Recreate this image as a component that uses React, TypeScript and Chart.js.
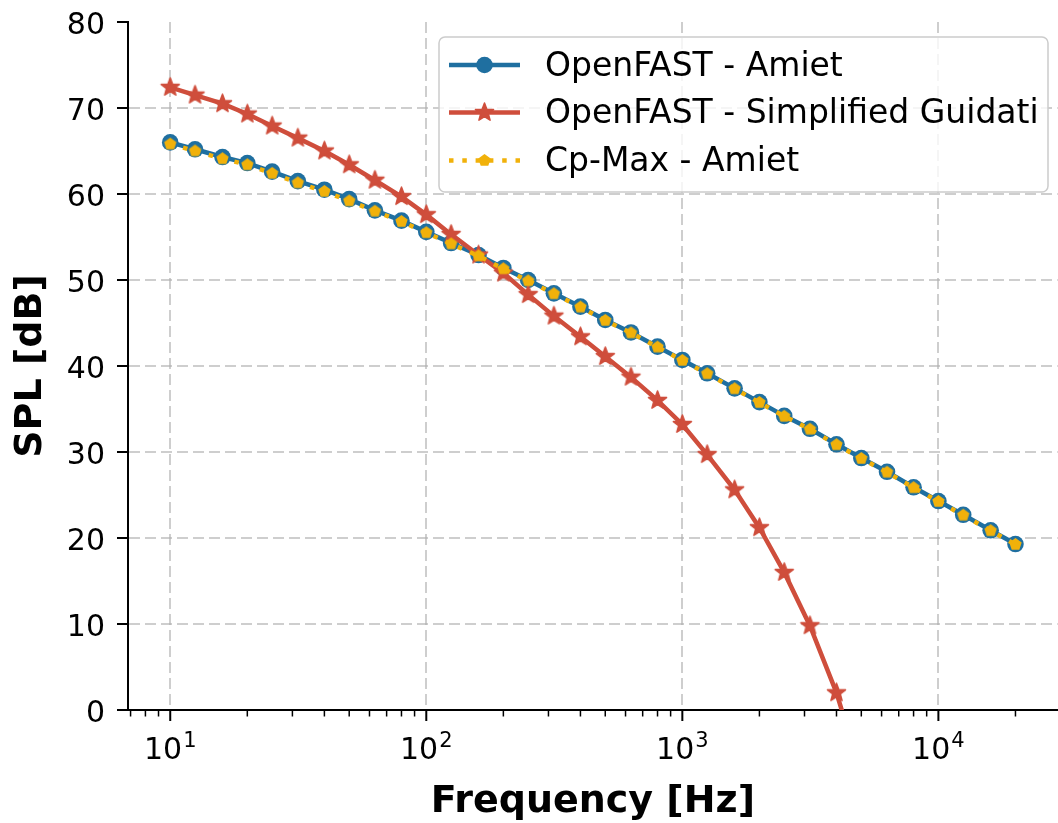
import React, { useEffect, useRef } from "react";
import { Chart, registerables } from "chart.js";

Chart.register(...registerables);

// ---------- data ----------
const frequencies = [
  10, 12.5, 16, 20, 25, 31.5, 40, 50, 63, 80, 100, 125, 160, 200, 250, 315, 400, 500, 630, 800,
  1000, 1250, 1600, 2000, 2500, 3150, 4000, 5000, 6300, 8000, 10000, 12500, 16000, 20000,
];
const openfastAmiet = [
  66.0, 65.2, 64.3, 63.6, 62.6, 61.5, 60.5, 59.4, 58.1, 56.9, 55.6, 54.3, 52.9, 51.4, 50.0, 48.45,
  46.9, 45.35, 43.9, 42.25, 40.7, 39.15, 37.4, 35.8, 34.2, 32.7, 30.9, 29.3, 27.7, 25.9, 24.3,
  22.7, 20.9, 19.3,
];
const openfastGuidati = [
  72.4, 71.5, 70.5, 69.3, 67.9, 66.5, 65.0, 63.4, 61.6, 59.7, 57.6, 55.3, 52.9, 50.8, 48.3, 45.8,
  43.4, 41.1, 38.7, 36.0, 33.2, 29.7, 25.6, 21.2, 16.0, 9.8, 2.0, -7.5,
];
const cpmaxAmiet = [
  65.8, 65.0, 64.1, 63.4, 62.4, 61.3, 60.3, 59.2, 58.0, 56.8, 55.5, 54.2, 52.8, 51.3, 49.9, 48.4,
  46.85, 45.3, 43.85, 42.2, 40.65, 39.1, 37.35, 35.75, 34.15, 32.65, 30.85, 29.25, 27.65, 25.85,
  24.25, 22.65, 20.85, 19.25,
];
const seriesLabels = ["OpenFAST - Amiet", "OpenFAST - Simplified Guidati", "Cp-Max - Amiet"];
const yTicks = [0, 10, 20, 30, 40, 50, 60, 70, 80];
const xMajorTicks = [10, 100, 1000, 10000];
const xMajorExponents = ["1", "2", "3", "4"];
const xTitle = "Frequency [Hz]";
const yTitle = "SPL [dB]";

// ---------- styles ----------
const BLUE = "#1f6fa0";
const RED = "#cf4e3c";
const YELLOW = "#f1b10a";
const GRID = "rgba(176,176,176,0.62)";
const FONT = "'DejaVu Sans', sans-serif";

function makeStar(color: string, outer: number, inner: number) {
  const size = Math.ceil(outer * 2 + 4);
  const c = document.createElement("canvas");
  c.width = size;
  c.height = size;
  const g = c.getContext("2d")!;
  g.translate(size / 2, size / 2);
  g.beginPath();
  for (let i = 0; i < 10; i++) {
    const r = i % 2 === 0 ? outer : inner;
    const a = -Math.PI / 2 + (i * Math.PI) / 5;
    const px = r * Math.cos(a);
    const py = r * Math.sin(a);
    if (i === 0) g.moveTo(px, py);
    else g.lineTo(px, py);
  }
  g.closePath();
  g.fillStyle = color;
  g.fill();
  g.strokeStyle = color;
  g.lineWidth = 1.5;
  g.lineJoin = "round";
  g.stroke();
  return c;
}

function makePolygon(color: string, r: number, n: number) {
  const size = Math.ceil(r * 2 + 4);
  const c = document.createElement("canvas");
  c.width = size;
  c.height = size;
  const g = c.getContext("2d")!;
  g.translate(size / 2, size / 2);
  g.beginPath();
  for (let i = 0; i < n; i++) {
    const a = -Math.PI / 2 + (i * 2 * Math.PI) / n;
    const px = r * Math.cos(a);
    const py = r * Math.sin(a);
    if (i === 0) g.moveTo(px, py);
    else g.lineTo(px, py);
  }
  g.closePath();
  g.fillStyle = color;
  g.fill();
  return c;
}

const isDecade = (v: any) =>
  typeof v === "number" && v > 0 && Math.abs(Math.log10(v) - Math.round(Math.log10(v))) < 1e-9;

export default function App() {
  const ref = useRef<HTMLCanvasElement | null>(null);

  useEffect(() => {
    if (!ref.current) return;
    const star = makeStar(RED, 9.5, 4.0);
    const pent = makePolygon(YELLOW, 6.5, 5);

    const decor = {
      id: "decor",
      afterDraw(chart: any) {
        const { ctx, chartArea, scales } = chart;
        const xs = scales.x;
        ctx.save();
        // x ticks (major + minor)
        ctx.strokeStyle = "#000";
        for (let e = 0; e <= 4; e++) {
          for (let m = 1; m <= 9; m++) {
            const v = m * Math.pow(10, e);
            if (v < xs.min || v > xs.max) continue;
            const px = xs.getPixelForValue(v);
            const major = m === 1;
            ctx.lineWidth = major ? 2 : 1.5;
            ctx.beginPath();
            ctx.moveTo(px, chartArea.bottom);
            ctx.lineTo(px, chartArea.bottom + (major ? 11 : 6.5));
            ctx.stroke();
          }
        }
        // x tick labels 10^n
        ctx.fillStyle = "#000";
        ctx.textBaseline = "alphabetic";
        ctx.textAlign = "left";
        xMajorTicks.forEach((v, i) => {
          const px = xs.getPixelForValue(v);
          ctx.font = `30px ${FONT}`;
          const wBase = ctx.measureText("10").width;
          ctx.font = `21px ${FONT}`;
          const wExp = ctx.measureText(xMajorExponents[i]).width;
          const total = wBase + 1 + wExp;
          const x0 = px - total / 2;
          ctx.font = `30px ${FONT}`;
          ctx.fillText("10", x0, chartArea.bottom + 49);
          ctx.font = `21px ${FONT}`;
          ctx.fillText(xMajorExponents[i], x0 + wBase + 1, chartArea.bottom + 37);
        });

        // legend
        const bx = 439, by = 37, bw = 609, bh = 155, br = 6;
        ctx.beginPath();
        ctx.moveTo(bx + br, by);
        ctx.lineTo(bx + bw - br, by);
        ctx.arcTo(bx + bw, by, bx + bw, by + br, br);
        ctx.lineTo(bx + bw, by + bh - br);
        ctx.arcTo(bx + bw, by + bh, bx + bw - br, by + bh, br);
        ctx.lineTo(bx + br, by + bh);
        ctx.arcTo(bx, by + bh, bx, by + bh - br, br);
        ctx.lineTo(bx, by + br);
        ctx.arcTo(bx, by, bx + br, by, br);
        ctx.closePath();
        ctx.fillStyle = "rgba(255,255,255,0.8)";
        ctx.fill();
        ctx.strokeStyle = "#cccccc";
        ctx.lineWidth = 1.5;
        ctx.stroke();

        const rows = [65, 112.5, 160.5];
        const lx1 = 449, lx2 = 520, mx = 484.5;
        chart.data.datasets.forEach((ds: any, i: number) => {
          const y = rows[i];
          ctx.save();
          ctx.strokeStyle = ds.borderColor;
          ctx.lineWidth = ds.borderWidth;
          ctx.lineCap = "butt";
          ctx.setLineDash(ds.borderDash || []);
          ctx.beginPath();
          ctx.moveTo(lx1, y);
          ctx.lineTo(lx2, y);
          ctx.stroke();
          ctx.restore();
          const ps = ds.pointStyle;
          if (typeof ps === "string") {
            ctx.beginPath();
            ctx.arc(mx, y, ds.pointRadius, 0, Math.PI * 2);
            ctx.fillStyle = ds.pointBackgroundColor;
            ctx.fill();
          } else {
            ctx.drawImage(ps, mx - ps.width / 2, y - ps.height / 2);
          }
          ctx.fillStyle = "#000";
          ctx.font = `33px ${FONT}`;
          ctx.textBaseline = "middle";
          ctx.textAlign = "left";
          ctx.fillText(seriesLabels[i], 545, y + 2);
        });
        ctx.restore();
      },
    };

    const chart = new Chart(ref.current, {
      type: "line",
      data: {
        labels: frequencies,
        datasets: [
          {
            label: seriesLabels[0],
            data: frequencies.map((f, i) => ({ x: f, y: openfastAmiet[i] })),
            borderColor: BLUE,
            backgroundColor: BLUE,
            pointBackgroundColor: BLUE,
            pointBorderWidth: 0,
            pointRadius: 8.3,
            pointStyle: "circle",
            borderWidth: 4.5,
            tension: 0,
            order: 3,
          },
          {
            label: seriesLabels[1],
            data: openfastGuidati.map((v, i) => ({ x: frequencies[i], y: v })),
            borderColor: RED,
            backgroundColor: RED,
            pointBackgroundColor: RED,
            pointBorderWidth: 0,
            pointRadius: 6,
            pointStyle: star,
            borderWidth: 4.5,
            tension: 0,
            order: 2,
          },
          {
            label: seriesLabels[2],
            data: frequencies.map((f, i) => ({ x: f, y: cpmaxAmiet[i] })),
            borderColor: YELLOW,
            backgroundColor: YELLOW,
            pointBackgroundColor: YELLOW,
            pointBorderWidth: 0,
            pointRadius: 5,
            pointStyle: pent,
            borderWidth: 4.5,
            borderDash: [4.5, 8.8],
            borderCapStyle: "butt",
            tension: 0,
            order: 1,
          },
        ],
      },
      options: {
        animation: false,
        responsive: false,
        events: [],
        layout: { padding: { top: 22, right: 0, left: 0, bottom: 0 } },
        plugins: { legend: { display: false }, tooltip: { enabled: false } },
        scales: {
          x: {
            type: "logarithmic",
            min: 6.84,
            max: 29240,
            afterFit: (s: any) => {
              s.height = 113;
              s.paddingLeft = 0;
              s.paddingRight = 0;
            },
            grid: {
              drawTicks: false,
              lineWidth: 2,
              color: (c: any) => (c.tick && isDecade(c.tick.value) ? GRID : "rgba(0,0,0,0)"),
            },
            border: { display: true, color: "#000", width: 2, dash: [11, 5] },
            ticks: { display: false },
            title: {
              display: true,
              text: xTitle,
              color: "#000",
              font: { family: FONT, size: 38, weight: "bold", lineHeight: 1 },
              padding: { top: 0, bottom: 1.4 },
            },
          },
          y: {
            type: "linear",
            min: 0,
            max: 80,
            afterFit: (s: any) => {
              s.width = 128;
              s.paddingTop = 0;
              s.paddingBottom = 0;
            },
            afterBuildTicks: (s: any) => {
              s.ticks = yTicks.map((v) => ({ value: v }));
            },
            grid: {
              drawTicks: true,
              tickLength: 11,
              tickWidth: 2,
              tickColor: "#000",
              lineWidth: 2,
              color: (c: any) =>
                c.tick && (c.tick.value === 80 || c.tick.value === 0) ? "rgba(0,0,0,0)" : GRID,
            },
            border: { display: true, color: "#000", width: 2, dash: [11, 5] },
            ticks: {
              color: "#000",
              padding: 12,
              labelOffset: 4,
              font: { family: FONT, size: 30 },
              callback: (v: any) => String(v),
            },
            title: {
              display: true,
              text: yTitle,
              color: "#000",
              font: { family: FONT, size: 38, weight: "bold", lineHeight: 1 },
              padding: { top: 12.6, bottom: 0 },
            },
          },
        },
      },
      plugins: [decor],
    } as any);

    return () => chart.destroy();
  }, []);

  return (
    <div
      style={{
        position: "absolute",
        left: 0,
        top: 0,
        width: 1058,
        height: 823,
        overflow: "hidden",
        background: "#fff",
      }}
    >
      <canvas ref={ref} width={1066} height={823} style={{ display: "block" }} />
    </div>
  );
}
